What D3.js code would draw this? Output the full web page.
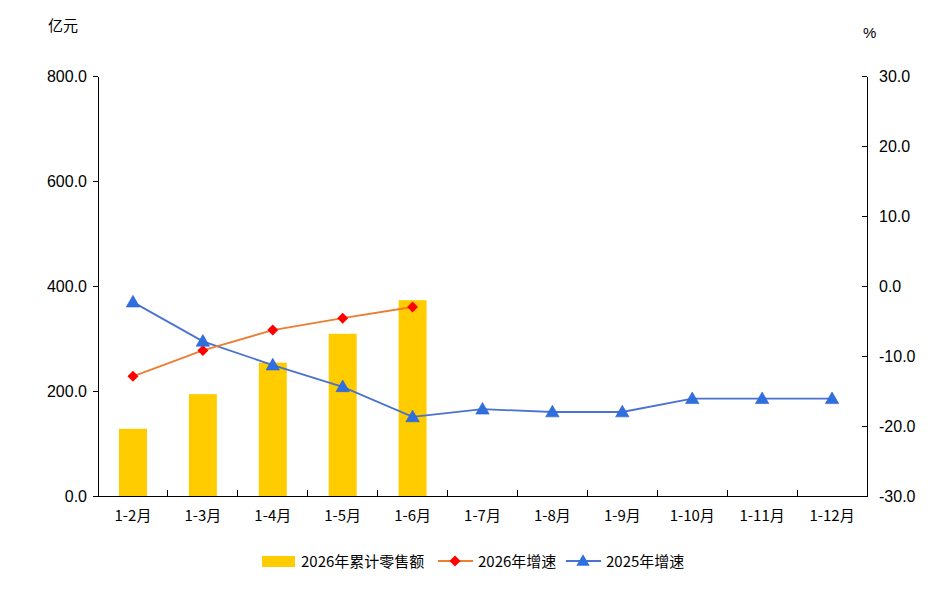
<html>
<head>
<meta charset="utf-8">
<script src="https://cdn.jsdelivr.net/npm/d3@7"></script>
<style>
body { margin: 0; background: #fff; }
.axis path, .axis line { stroke: #000; shape-rendering: crispEdges; }
.num text { font: 16px "Liberation Sans", Arial, sans-serif; fill: #000; }
.cat text { font: 15px "Noto Sans CJK SC", sans-serif; fill: #000; }
</style>
</head>
<body>
<svg width="952" height="589"></svg>
<script>
// values
var months = ["1-2月","1-3月","1-4月","1-5月","1-6月","1-7月","1-8月","1-9月","1-10月","1-11月","1-12月"];
var sales2026 = [128, 194, 254, 309, 373];
var growth2026 = [-12.9, -9.2, -6.3, -4.6, -3.0];
var growth2025 = [-2.3, -7.9, -11.3, -14.4, -18.7, -17.6, -18.0, -18.0, -16.1, -16.1, -16.1];
var leftTicks = [0, 200, 400, 600, 800];
var rightTicks = [-30, -20, -10, 0, 10, 20, 30];
var legendNames = ["2026年累计零售额", "2026年增速", "2025年增速"];

var plotL = 98, plotR = 867, plotT = 76, plotB = 496;
var svg = d3.select("svg");
var fmt = d3.formatLocale({decimal: ".", thousands: ",", grouping: [3], currency: ["", ""], minus: "-"}).format(".1f");

var x = d3.scaleBand().domain(months).range([plotL, plotR]);
var yL = d3.scaleLinear().domain([0, 800]).range([plotB, plotT]);
var yR = d3.scaleLinear().domain([-30, 30]).range([plotB, plotT]);

// bars
var bw = x.bandwidth() * 0.4;
svg.append("g").selectAll("rect")
  .data(sales2026)
  .enter().append("rect")
  .attr("x", function(d, i) { return x(months[i]) + (x.bandwidth() - bw) / 2; })
  .attr("y", function(d) { return yL(d); })
  .attr("width", bw)
  .attr("height", function(d) { return yL(0) - yL(d); })
  .attr("fill", "#FFCC00");

// axes
svg.append("g").attr("class", "axis num")
  .attr("transform", "translate(" + plotL + ",0)")
  .call(d3.axisLeft(yL).tickValues(leftTicks).tickFormat(fmt).tickSizeInner(5).tickSizeOuter(0).tickPadding(6));

svg.append("g").attr("class", "axis num")
  .attr("transform", "translate(" + plotR + ",0)")
  .call(d3.axisRight(yR).tickValues(rightTicks).tickFormat(fmt).tickSizeInner(-5).tickSizeOuter(0).tickPadding(12));

var xa = svg.append("g").attr("class", "axis cat")
  .attr("transform", "translate(0," + plotB + ")")
  .call(d3.axisBottom(x).tickSize(0).tickPadding(14));
xa.selectAll(".tick line").remove();
// ticks between categories
xa.selectAll("line.sep")
  .data(months.slice(1))
  .enter().append("line")
  .attr("class", "sep")
  .attr("x1", function(d) { return x(d); })
  .attr("x2", function(d) { return x(d); })
  .attr("y1", 0).attr("y2", -6)
  .attr("stroke", "#000");

// lines
function cx(d, i) { return x(months[i]) + x.bandwidth() / 2; }
var growthLine = d3.line().x(cx).y(function(d) { return yR(d); });

svg.append("path").datum(growth2025)
  .attr("d", growthLine).attr("fill", "none")
  .attr("stroke", "#4A72D0").attr("stroke-width", 1.8);
svg.append("path").datum(growth2026)
  .attr("d", growthLine).attr("fill", "none")
  .attr("stroke", "#ED7D31").attr("stroke-width", 1.8);

var diamond = d3.symbol().type(d3.symbolSquare).size(60);
var tri = d3.symbol().type(d3.symbolTriangle).size(78);

svg.append("g").selectAll("path")
  .data(growth2026)
  .enter().append("path")
  .attr("d", diamond)
  .attr("transform", function(d, i) { return "translate(" + cx(d, i) + "," + yR(d) + ") rotate(45)"; })
  .attr("fill", "#FF0000");

svg.append("g").selectAll("path")
  .data(growth2025)
  .enter().append("path")
  .attr("d", tri)
  .attr("transform", function(d, i) { return "translate(" + cx(d, i) + "," + (yR(d) + 1) + ")"; })
  .attr("fill", "#2F6FE0")
  .attr("stroke", "#2A62C8")
  .attr("stroke-width", 0.6);

// unit labels
svg.append("text").attr("x", 48).attr("y", 31)
  .style("font", "15px 'Noto Sans CJK SC', sans-serif").text("亿元");
svg.append("text").attr("x", 863).attr("y", 38)
  .style("font", "15px 'Liberation Sans', Arial, sans-serif").text("%");

// legend
var lg = svg.append("g").style("font", "15px 'Noto Sans CJK SC', sans-serif");
lg.append("rect").attr("x", 262).attr("y", 556).attr("width", 33).attr("height", 11).attr("fill", "#FFCC00");
lg.append("text").attr("x", 301).attr("y", 567).text(legendNames[0]);
lg.append("line").attr("x1", 438).attr("x2", 473).attr("y1", 561).attr("y2", 561).attr("stroke", "#ED7D31").attr("stroke-width", 1.8);
lg.append("path").attr("d", diamond).attr("transform", "translate(455,561) rotate(45)").attr("fill", "#FF0000");
lg.append("text").attr("x", 478).attr("y", 567).text(legendNames[1]);
lg.append("line").attr("x1", 566).attr("x2", 601).attr("y1", 561).attr("y2", 561).attr("stroke", "#4A72D0").attr("stroke-width", 1.8);
lg.append("path").attr("d", tri).attr("transform", "translate(583,562)").attr("fill", "#2F6FE0");
lg.append("text").attr("x", 606).attr("y", 567).text(legendNames[2]);
</script>
</body>
</html>
